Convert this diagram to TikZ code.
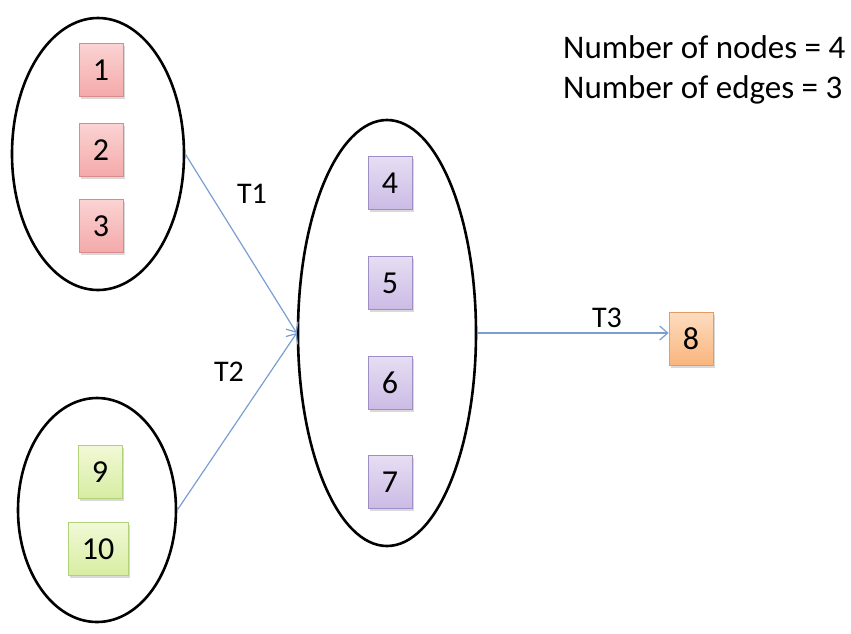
\documentclass[tikz,border=0pt]{standalone}
\usepackage{fontspec}
\setmainfont{Carlito}
\usetikzlibrary{shapes.geometric,shadows,arrows.meta}

\definecolor{edgeblue}{HTML}{7A9ED2}
\definecolor{redtop}{HTML}{FBD3D3}
\definecolor{redbot}{HTML}{F4A9A9}
\definecolor{redline}{HTML}{D98A8A}
\definecolor{purtop}{HTML}{E6DEF3}
\definecolor{purbot}{HTML}{CBBBE5}
\definecolor{purline}{HTML}{9F8DC6}
\definecolor{orntop}{HTML}{FDDCC0}
\definecolor{ornbot}{HTML}{F9B57C}
\definecolor{ornline}{HTML}{E59B62}
\definecolor{grntop}{HTML}{F1F9D6}
\definecolor{grnbot}{HTML}{D7EDA2}
\definecolor{grnline}{HTML}{B3D07A}

\tikzset{
  x=1pt, y=-1pt,
  group/.style={ellipse, draw=black, line width=2.6pt, inner sep=0pt},
  vbox/.style={rectangle, line width=0.8pt, minimum width=44pt, minimum height=53pt,
    inner sep=0pt, font=\fontsize{32}{38}\selectfont,
    drop shadow={shadow xshift=1.5pt, shadow yshift=-2.5pt, opacity=0.3}},
  redbox/.style={vbox, draw=redline, top color=redtop, bottom color=redbot},
  purbox/.style={vbox, draw=purline, top color=purtop, bottom color=purbot},
  ornbox/.style={vbox, draw=ornline, top color=orntop, bottom color=ornbot},
  grnbox/.style={vbox, draw=grnline, top color=grntop, bottom color=grnbot},
  trans/.style={draw=edgeblue, line width=1.2pt, -{Straight Barb[length=8pt,width=14pt,line width=1.2pt]}},
  tlabel/.style={font=\fontsize{30}{36}\selectfont, inner sep=0pt},
  info/.style={font=\fontsize{33}{40}\selectfont, inner sep=0pt, anchor=base west}
}

\begin{document}
\begin{tikzpicture}
  \useasboundingbox (0,0) rectangle (851,633);

  % groups of vertices
  \node[group, minimum width=172pt, minimum height=272pt] (ga) at (98,154) {};
  \node[group, minimum width=158pt, minimum height=224pt] (gb) at (97,510) {};
  \node[group, minimum width=178pt, minimum height=426pt] (gm) at (387,333) {};

  % vertices
  \node[redbox] (v1) at (101,70) {1};
  \node[redbox] (v2) at (101,150) {2};
  \node[redbox] (v3) at (101,226) {3};

  \node[purbox] (v4) at (390,183) {4};
  \node[purbox] (v5) at (390,283) {5};
  \node[purbox] (v6) at (390,383) {6};
  \node[purbox] (v7) at (390,482) {7};

  \node[ornbox] (v8) at (691,339) {8};

  \node[grnbox] (v9) at (100,472) {9};
  \node[grnbox, minimum width=60pt] (v10) at (98,549) {10};

  % transitions
  \draw[trans] (ga.east) -- (gm.west);
  \draw[trans] (gb.east) -- (gm.west);
  \draw[trans] (gm.east) -- (gm.east -| v8.west);

  \node[tlabel] (t1) at (252,194) {T1};
  \node[tlabel] (t2) at (229,372) {T2};
  \node[tlabel] (t3) at (607,318) {T3};

  % summary
  \node[info] (nn) at (563,58) {Number of nodes = 4};
  \node[info] (ne) at (563,98) {Number of edges = 3};
\end{tikzpicture}
\end{document}
